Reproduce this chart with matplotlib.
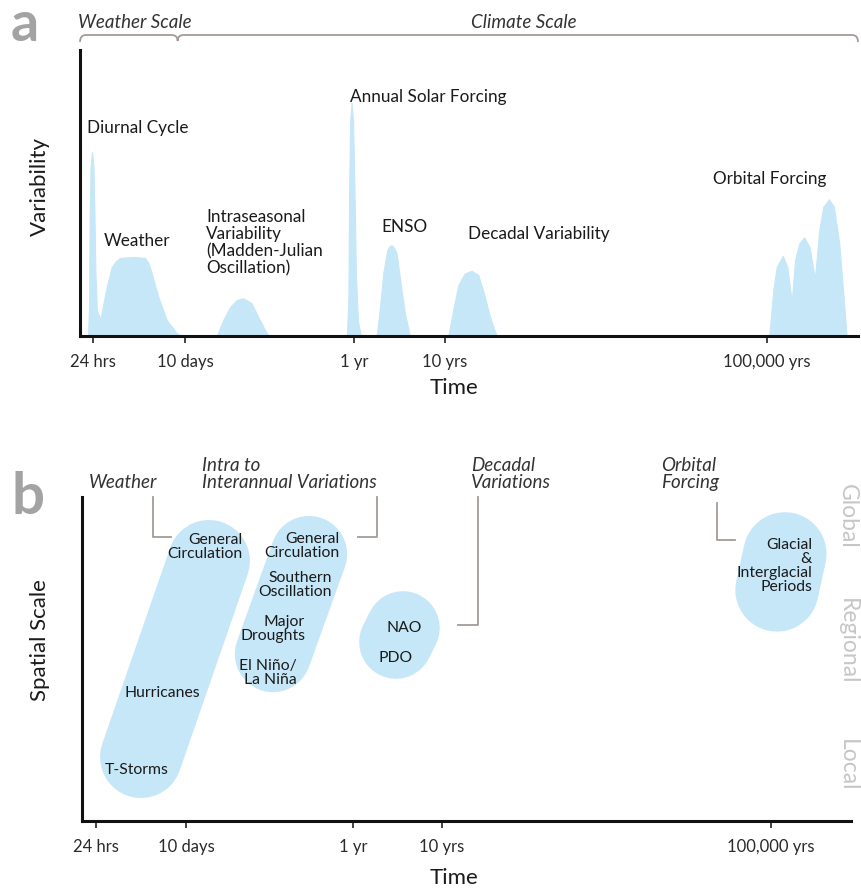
import numpy as np
import matplotlib
matplotlib.use('Agg')
import matplotlib.pyplot as plt
from matplotlib.path import Path
from matplotlib.patches import PathPatch
from matplotlib.lines import Line2D

plt.rcParams['font.family'] = ['Lato', 'DejaVu Sans']

W, H = 862, 891
BLUE = '#c6e7f8'
INK = '#1a1a1a'
BRACKET = '#a39b97'

# ---------------- data ----------------
tick_labels = ['24 hrs', '10 days', '1 yr', '10 yrs', '100,000 yrs']
tick_log_days = [0.0, 1.0, 2.5626, 3.5626, 7.5626]   # log10(period / days)

# Panel a: variability peaks (x: log10 period in days, y: variability 0-100)
diurnal_x = [-0.054, -0.043, -0.036, -0.027, -0.011, 0.005, 0.016, 0.027, 0.043, 0.076, 0.109]
diurnal_y = [0, 10.5, 42.0, 59.4, 64.3, 59.4, 42.0, 21.0, 8.7, 6.3, 0]

weather_x = [0.065, 0.087, 0.149, 0.203, 0.250, 0.293, 0.435, 0.565, 0.603, 0.638, 0.707, 0.801, 0.910, 0.967]
weather_y = [0, 7.0, 17.1, 24.1, 26.2, 27.3, 27.6, 27.3, 25.5, 22.0, 14.0, 5.6, 1.0, 0]

mjo_x = [1.293, 1.354, 1.416, 1.478, 1.539, 1.616, 1.677, 1.755, 1.786]
mjo_y = [0, 5.6, 10.1, 12.6, 13.2, 11.4, 6.7, 1.0, 0]

annual_x = [2.497, 2.511, 2.518, 2.527, 2.540, 2.554, 2.567, 2.584, 2.606, 2.639]
annual_y = [0, 14.0, 52.4, 75.2, 81.5, 75.2, 52.4, 21.0, 5.2, 0]

enso_x = [2.811, 2.848, 2.884, 2.928, 2.952, 2.976, 3.002, 3.031, 3.075, 3.122, 3.177]
enso_y = [0, 10.1, 21.9, 30.1, 31.3, 31.8, 30.8, 28.9, 18.4, 7.9, 0]

decadal_x = [3.603, 3.665, 3.727, 3.810, 3.894, 3.976, 4.046, 4.121, 4.204]
decadal_y = [0, 9.1, 17.8, 21.9, 22.8, 21.3, 14.9, 6.7, 0]

orbital_x = [7.591, 7.641, 7.683, 7.758, 7.815, 7.870, 7.911, 7.964, 8.023, 8.089,
             8.158, 8.212, 8.262, 8.332, 8.394, 8.460, 8.510, 8.552]
orbital_y = [0, 16.1, 24.1, 28.0, 24.1, 11.9, 26.6, 32.4, 34.5, 31.2,
             20.2, 37.1, 45.2, 47.8, 45.2, 32.4, 14.9, 0]

weather_climate_boundary = 0.92   # log10 days

# Panel b: phenomena extents (x: log10 period in days, y: 0=Local, 1=Regional, 2=Global)
spatial_labels = ['Local', 'Regional', 'Global']
spatial_levels = [0, 1, 2]
weather_span_x = [0.50, 1.215]
weather_span_y = [0.065, 1.645]
intra_span_x = [1.814, 2.151]
intra_span_y = [0.895, 1.70]
decadal_span_x = [3.045, 3.124]
decadal_span_y = [0.992, 1.105]
orbital_span_x = [7.635, 7.732]
orbital_span_y = [1.411, 1.702]

# ---------------- helpers ----------------
def make_warp(aL, af):
    aL = np.asarray(aL, float)
    af = np.asarray(af, float)

    def interp_ext(x, xs, ys):
        x = np.asarray(x, float)
        y = np.interp(x, xs, ys)
        sl0 = (ys[1] - ys[0]) / (xs[1] - xs[0])
        sl1 = (ys[-1] - ys[-2]) / (xs[-1] - xs[-2])
        y = np.where(x < xs[0], ys[0] + (x - xs[0]) * sl0, y)
        y = np.where(x > xs[-1], ys[-1] + (x - xs[-1]) * sl1, y)
        return y

    fwd = lambda x: interp_ext(x, aL, af)
    inv = lambda f: interp_ext(f, af, aL)
    return fwd, inv


def fpx(x, y):
    return x / W, 1 - y / H


fig = plt.figure(figsize=(W / 100, H / 100), dpi=100)

def ftext(x, y, s, **kw):
    fx, fy = fpx(x, y)
    kw.setdefault('color', INK)
    return fig.text(fx, fy, s, **kw)

def fline(xs, ys, **kw):
    pts = [fpx(x, y) for x, y in zip(xs, ys)]
    fig.add_artist(Line2D([p[0] for p in pts], [p[1] for p in pts],
                          transform=fig.transFigure, **kw))

def ax_rect(left, top, right, bottom):
    return [left / W, 1 - bottom / H, (right - left) / W, (bottom - top) / H]

def style_axis(ax, fwd, inv):
    ax.set_xscale('function', functions=(fwd, inv))
    ax.set_xlim(float(inv(0.0)), float(inv(1.0)))
    ax.set_xticks(tick_log_days)
    ax.set_xticklabels(tick_labels, fontsize=12, color='#2a2a2a')
    ax.xaxis.set_minor_locator(matplotlib.ticker.NullLocator())
    ax.tick_params(axis='x', direction='out', length=5, width=1.2, pad=8, color='#222')
    ax.set_yticks([])
    for s in ['top', 'right']:
        ax.spines[s].set_visible(False)
    for s in ['left', 'bottom']:
        ax.spines[s].set_linewidth(2.2)
        ax.spines[s].set_color('#111')
    ax.set_facecolor('none')

# ---------------- panel a ----------------
axa = fig.add_axes(ax_rect(80, 50, 858, 336))
fwd_a, inv_a = make_warp(tick_log_days, [13 / 778, 105 / 778, 274 / 778, 365 / 778, 687 / 778])
style_axis(axa, fwd_a, inv_a)
axa.set_ylim(0, 100)

for xs, ys in [(diurnal_x, diurnal_y), (weather_x, weather_y), (mjo_x, mjo_y),
               (annual_x, annual_y), (enso_x, enso_y), (decadal_x, decadal_y),
               (orbital_x, orbital_y)]:
    axa.fill_between(xs, 0, ys, color=BLUE, lw=0.8, edgecolor=BLUE, joinstyle='round', zorder=1)

# bracket above panel a (axes coordinates)
y0 = (336 - 35) / 286
dyp = 1 / 286
dxp = 1 / 778
xn = float(fwd_a(weather_climate_boundary))
verts = [(0, y0 - 7 * dyp), (0, y0), (6 * dxp, y0),
         (xn - 6 * dxp, y0), (xn, y0), (xn, y0 - 6 * dyp),
         (xn, y0), (xn + 6 * dxp, y0),
         (1 - 6 * dxp, y0), (1, y0), (1, y0 - 7 * dyp)]
codes = [Path.MOVETO, Path.CURVE3, Path.CURVE3,
         Path.LINETO, Path.CURVE3, Path.CURVE3,
         Path.CURVE3, Path.CURVE3,
         Path.LINETO, Path.CURVE3, Path.CURVE3]
axa.add_patch(PathPatch(Path(verts, codes), transform=axa.transAxes, fill=False,
                        edgecolor=BRACKET, lw=1.3, clip_on=False))

ftext(78, 22, 'Weather Scale', fontsize=13.5, style='italic', va='center', ha='left', color='#333')
ftext(524, 22, 'Climate Scale', fontsize=13.5, style='italic', va='center', ha='center', color='#333')

lab = dict(fontsize=12.3, va='center', ha='left')
ftext(87, 128, 'Diurnal Cycle', **lab)
ftext(104, 241, 'Weather', **lab)
ftext(206, 243, 'Intraseasonal\nVariability\n(Madden-Julian\nOscillation)', linespacing=1.08, **lab)
ftext(350, 97, 'Annual Solar Forcing', **lab)
ftext(381, 227, 'ENSO', **lab)
ftext(468, 234, 'Decadal Variability', **lab)
ftext(713, 179, 'Orbital Forcing', **lab)

ftext(454, 388, 'Time', fontsize=16, ha='center', va='center')
ftext(40, 186, 'Variability', fontsize=16, ha='center', va='center', rotation=90)
ftext(25, 25, 'a', fontsize=40, fontweight='bold', color='#a3a3a3', ha='center', va='center')

# ---------------- panel b ----------------
axb = fig.add_axes(ax_rect(82, 497, 851, 821))
fwd_b, inv_b = make_warp(tick_log_days, [14 / 769, 104 / 769, 271 / 769, 360 / 769, 689 / 769])
style_axis(axb, fwd_b, inv_b)
axb.set_ylim(-0.45, 2.16)

for (sx, sy), lw in [((weather_span_x, weather_span_y), 59),
                     ((intra_span_x, intra_span_y), 55),
                     ((decadal_span_x, decadal_span_y), 53),
                     ((orbital_span_x, orbital_span_y), 60)]:
    axb.plot(sx, sy, color=BLUE, lw=lw, solid_capstyle='round', zorder=1, clip_on=False)

for lvl, name in zip(spatial_levels, spatial_labels):
    axb.text(0.9955, lvl, name, transform=axb.get_yaxis_transform(), rotation=-90,
             fontsize=16.5, fontweight='normal', color='#c6c6c6', ha='center', va='center')

blab = dict(fontsize=11.3, va='center', linespacing=1.0)
ftext(243, 547, 'General\nCirculation', ha='right', **blab)
ftext(340, 546, 'General\nCirculation', ha='right', **blab)
ftext(332, 585, 'Southern\nOscillation', ha='right', **blab)
ftext(305, 629, 'Major\nDroughts', ha='right', **blab)
ftext(297, 673, 'El Niño/\nLa Niña', ha='right', **blab)
ftext(162, 693, 'Hurricanes', ha='center', **blab)
ftext(137, 770, 'T-Storms', ha='center', **blab)
ftext(404, 628, 'NAO', ha='center', **blab)
ftext(396, 658, 'PDO', ha='center', **blab)
ftext(812, 566, 'Glacial\n&\nInterglacial\nPeriods', ha='right', **blab)

ilab = dict(fontsize=13.5, style='italic', va='center', ha='left', color='#333', linespacing=0.95)
ftext(89, 483, 'Weather', **ilab)
ftext(202, 474, 'Intra to\nInterannual Variations', **ilab)
ftext(471, 474, 'Decadal\nVariations', **ilab)
ftext(661, 474, 'Orbital\nForcing', **ilab)

bk = dict(color=BRACKET, lw=1.3)
fline([153, 153, 171], [497, 537, 537], **bk)
fline([358, 377, 377], [537, 537, 497], **bk)
fline([478, 478, 458], [497, 625, 625], **bk)
fline([717, 717, 735], [503, 540, 540], **bk)

ftext(454, 878, 'Time', fontsize=16, ha='center', va='center')
ftext(40, 640, 'Spatial Scale', fontsize=16, ha='center', va='center', rotation=90)
ftext(28, 497, 'b', fontsize=42, fontweight='bold', color='#a3a3a3', ha='center', va='center')

fig.savefig('out.png', dpi=100)
